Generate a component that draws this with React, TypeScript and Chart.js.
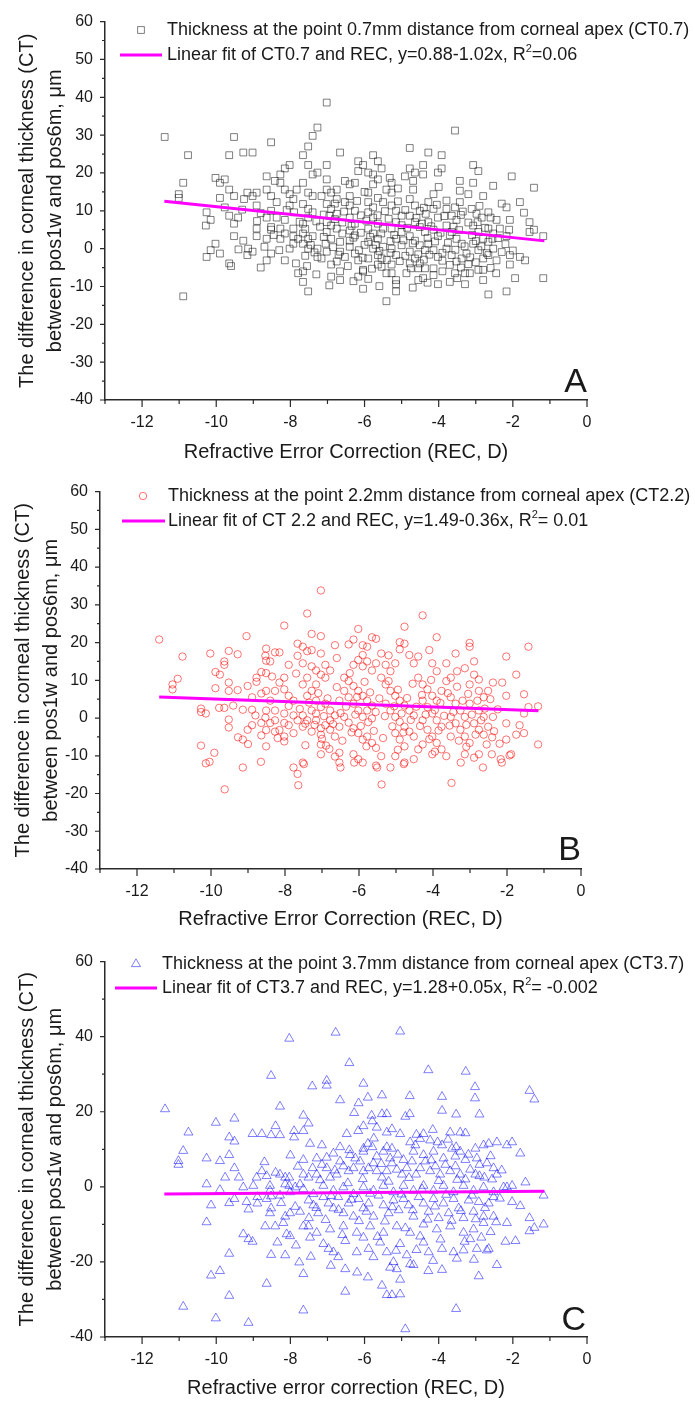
import React, { useEffect, useRef } from "react";
import { Chart, registerables } from "chart.js";

Chart.register(...registerables);

const FONT = "'Liberation Sans', Arial, Helvetica, sans-serif";

// ---------------- axis ticks / labels ----------------
const X_TICKS = [-12, -10, -8, -6, -4, -2, 0];
const X_MINOR = [-13, -11, -9, -7, -5, -3, -1];
const Y_TICKS_AB = [-40, -30, -20, -10, 0, 10, 20, 30, 40, 50, 60];
const Y_MINOR_AB = [-35, -25, -15, -5, 5, 15, 25, 35, 45, 55];
const Y_TICKS_C = [-40, -20, 0, 20, 40, 60];
const Y_MINOR_C = [-30, -10, 10, 30, 50];

const Y_TITLE = ["The difference in corneal thickness (CT)", "between pos1w and pos6m, \u03bcm"];
const X_TITLE_AB = "Refractive Error Correction (REC, D)";
const X_TITLE_C = "Refractive error correction (REC, D)";

const A_LEG1 = "Thickness at the point 0.7mm distance from corneal apex (CT0.7)";
const A_LEG2 = ["Linear fit of CT0.7 and REC, y=0.88-1.02x, R", "2", "=0.06"];
const B_LEG1 = "Thickness at the point 2.2mm distance from corneal apex (CT2.2)";
const B_LEG2 = ["Linear fit of CT 2.2 and REC, y=1.49-0.36x, R", "2", "= 0.01"];
const C_LEG1 = "Thickness at the point 3.7mm distance from corneal apex (CT3.7)";
const C_LEG2 = ["Linear fit of CT3.7 and REC, y=1.28+0.05x, R", "2", "= -0.002"];

// ---------------- fitted lines (end points) ----------------
const A_FIT: [number, number][] = [[-11.4, 12.51], [-1.15, 2.05]];
const B_FIT: [number, number][] = [[-11.4, 5.59], [-1.15, 1.9]];
const C_FIT: [number, number][] = [[-11.4, -1.9], [-1.15, -1.2]];

// ---------------- CT0.7 (panel A) ----------------
const A_POINTS: [number, number][] = [
  [-11.39,29.5],[-10.76,24.7],[-10.89,17.4],[-11.01,14.4],[-11.01,13.4],[-10.89,-12.6],
  [-9.52,29.5],[-9.65,24.7],[-9.27,25.4],[-9.02,25.4],[-8.52,28.1],
  [-10.02,18.7],[-9.9,17.4],[-9.77,18.3],[-9.65,15.6],[-9.52,13.9],
  [-9.9,13.4],[-9.77,10.9],[-9.65,8.7],[-9.41,8.2],
  [-10.26,9.6],[-10.15,7.6],[-10.28,6.1],[-9.52,6.6],[-9.52,3.3],[-9.27,2.1],
  [-10.02,1.3],[-10.15,-0.4],[-10.26,-2.2],[-9.9,-1.3],[-9.65,-3.9],
  [-9.16,14.8],[-8.91,14.8],[-9.25,13.1],[-9.02,13.9],[-8.91,11.4],
  [-9.16,-1.7],[-9.02,-0.8],[-9.14,0.0],
  [-8.91,5.3],[-8.91,3.3],[-8.64,2.6],[-8.52,5.0],
  [-8.64,19.1],[-8.42,17.9],[-8.64,15.6],[-8.52,13.9],
  [-8.64,-3.1],[-8.52,-1.3],[-8.15,-3.1],
  [-8.27,19.6],[-8.15,21.2],[-8.02,22.1],[-8.27,17.4],[-8.15,15.6],
  [-8.37,12.3],[-8.52,10.0],[-8.64,8.2],[-8.37,8.2],[-8.15,7.6],
  [-8.52,5.7],[-8.27,5.3],[-8.15,4.0],[-8.27,2.6],
  [-8.02,14.4],[-7.92,13.1],[-8.02,11.4],[-7.83,15.6],
  [-7.92,5.3],[-7.92,3.3],[-8.02,0.0],[-7.92,1.3],[-7.79,2.6],
  [-7.66,24.7],[-7.52,27.0],[-7.4,29.8],[-7.27,32.0],[-7.52,22.1],
  [-7.66,17.4],[-7.52,14.8],[-7.4,19.6],[-7.27,20.1],[-7.4,13.9],
  [-7.66,11.8],[-7.52,10.5],[-7.4,9.6],[-7.52,8.2],[-7.66,6.6],
  [-7.66,4.0],[-7.52,2.6],[-7.66,1.3],[-7.52,0.0],[-7.4,3.3],
  [-7.79,-6.5],[-7.66,-8.8],[-7.52,-11.3],[-7.66,-6.0],
  [-7.27,0.0],[-7.27,-2.2],[-7.16,-2.6],[-7.02,-0.8],
  [-7.02,22.1],[-7.02,18.3],[-7.02,15.6],[-7.16,13.9],[-7.02,11.8],
  [-6.9,14.8],[-6.75,15.6],[-6.75,13.1],[-6.9,10.5],[-6.75,9.2],
  [-7.02,7.0],[-6.9,6.1],[-6.75,5.3],[-7.02,4.4],[-6.9,2.6],
  [-6.9,-4.2],[-6.9,-7.4],[-6.66,-8.3],[-6.66,-6.0],[-6.75,-3.4],
  [-6.66,25.4],[-6.53,17.9],[-6.4,17.0],[-6.26,17.4],[-6.66,1.8],[-6.66,-0.8],[-6.53,-2.2],
  [-7.02,38.6],
  [-6.4,13.9],[-6.53,12.3],[-6.4,11.4],[-6.26,10.0],[-6.4,8.2],[-6.26,6.6],[-6.4,4.8],[-6.26,3.5],[-6.4,2.1],
  [-6.4,0.5],[-6.26,-1.3],[-6.17,-3.1],[-6.04,-5.6],
  [-6.17,23.1],[-6.04,22.1],[-6.17,20.5],[-5.9,20.1],[-5.77,24.7],[-5.64,23.1],
  [-6.17,-7.4],[-6.04,-6.0],[-6.04,-10.6],
  [-5.9,14.8],[-5.77,17.0],[-5.64,18.3],[-5.54,21.2],[-5.77,19.6],
  [-5.9,12.3],[-5.77,10.9],[-5.64,13.4],[-5.5,12.3],[-5.9,9.6],[-5.77,8.2],[-5.64,6.6],
  [-5.9,5.3],[-5.77,4.0],[-5.64,2.6],[-5.5,5.3],[-5.9,1.8],[-5.77,0.0],[-5.64,-1.7],[-5.5,0.5],
  [-5.54,-2.6],[-5.54,-4.8],[-5.41,-6.5],[-5.27,-4.2],[-5.64,-4.2],
  [-5.32,18.7],[-5.27,17.4],[-5.41,15.6],[-5.27,14.8],
  [-5.27,11.4],[-5.15,10.0],[-5.0,8.7],[-5.15,7.0],[-5.27,5.3],[-5.0,4.4],[-5.15,2.6],[-5.0,0.9],[-5.27,0.0],[-5.15,-1.7],
  [-5.27,-6.5],[-5.15,-8.3],[-5.15,-9.4],[-5.15,-11.3],[-5.41,-13.9],
  [-4.78,26.6],[-4.78,21.2],[-4.64,20.1],[-4.69,17.9],[-4.91,19.1],[-4.69,15.6],[-4.42,22.1],[-4.28,25.4],[-3.92,24.7],[-3.92,21.2],[-4.02,20.1],[-4.42,19.6],
  [-4.78,13.1],[-4.64,11.4],[-4.51,10.0],[-4.78,8.7],[-4.64,7.0],[-4.51,5.7],[-4.37,4.4],[-4.78,3.3],[-4.64,2.1],[-4.51,0.9],[-4.37,-0.4],[-4.78,-0.8],[-4.64,-2.6],[-4.51,-3.9],[-4.37,-5.2],
  [-4.87,-6.5],[-4.55,-8.3],[-4.42,-7.8],[-4.78,-3.9],[-4.55,-5.2],
  [-4.14,14.4],[-4.28,12.3],[-4.14,10.5],[-4.02,8.2],[-4.28,7.0],[-4.14,5.0],[-4.02,3.3],[-4.28,1.3],[-4.14,-0.4],[-4.02,-2.2],[-4.14,-5.2],[-4.14,-7.0],[-4.02,-9.4],[-3.7,-8.8],
  [-3.56,31.2],[-3.43,17.9],[-3.43,15.3],[-3.2,14.4],[-3.07,17.4],[-2.93,20.5],[-3.07,22.1],[-2.8,13.9],[-3.56,10.9],[-3.43,12.3],[-3.79,12.7],
  [-3.79,10.5],[-3.65,8.7],[-3.52,7.6],[-3.79,6.1],[-3.65,4.4],[-3.52,2.6],[-3.38,1.3],[-3.79,0.0],[-3.65,-1.7],[-3.52,-3.4],[-3.38,-2.6],[-3.25,-1.3],[-3.56,-6.5],[-3.29,-6.5],[-3.29,-9.4],[-3.16,-6.5],
  [-3.11,10.5],[-2.98,9.2],[-2.84,8.2],[-3.07,6.1],[-2.93,4.4],[-2.8,2.6],[-3.07,1.3],[-2.93,-0.4],[-2.8,-2.6],[-2.93,-5.6],[-2.8,-5.6],
  [-2.66,9.6],[-2.44,7.6],[-2.66,5.3],[-2.53,4.0],[-2.66,1.8],[-2.53,0.0],[-2.44,-3.1],[-2.66,-1.7],
  [-2.53,16.6],[-2.17,10.9],[-2.03,19.1],[-2.08,7.6],[-2.17,3.3],[-2.08,-1.7],[-2.08,-4.2],[-1.94,-7.8],[-2.17,-11.3],[-2.66,-12.1],
  [-1.81,12.3],[-1.81,-2.2],[-1.67,-3.1],[-1.55,7.0],[-1.43,16.1],[-1.43,5.0],[-1.55,4.4],[-1.18,3.3],[-1.18,-7.8],
  [-7.1,9.0],[-6.8,7.8],[-6.6,4.0],[-6.1,8.8],[-6.0,1.0],[-5.9,-2.6],[-5.3,2.0],[-5.0,6.2],[-4.9,-1.9],[-4.4,10.8],
  [-4.3,2.8],[-3.9,-3.2],[-3.7,3.6],[-3.4,8.9],[-3.2,-4.1],[-3.0,2.0],[-2.9,11.3],[-2.6,-5.1],[-2.4,2.8],[-2.3,11.9],
  [-7.3,7.2],[-7.6,-1.9],[-8.1,10.2],[-6.3,-8.6],[-5.6,-9.9],[-4.7,-10.3],[-3.9,-6.0],[-4.0,16.3],[-5.1,15.9],[-6.0,15.0],
  [-8.8,-5.0],[-9.6,-4.6],[-2.0,-0.5],[-1.7,9.5],
  [-7.9,9.6],[-7.75,7.1],[-7.6,5.2],[-7.45,1.0],[-7.35,-1.0],[-7.2,5.8],[-7.1,3.1],[-7.05,1.3],[-6.95,8.7],[-6.85,0.4],
  [-6.8,11.9],[-6.7,-1.6],[-6.6,6.9],[-6.55,9.8],[-6.45,-4.6],[-6.35,6.0],[-6.3,2.9],[-6.2,12.6],[-6.15,-0.4],[-6.1,4.2],
  [-6.05,-2.4],[-5.95,7.4],[-5.85,3.1],[-5.8,-5.3],[-5.7,1.0],[-5.65,8.8],[-5.6,-0.6],[-5.55,4.0],[-5.45,9.9],[-5.4,-3.0],
  [-5.35,7.9],[-5.3,-1.1],[-5.2,3.6],[-5.1,12.5],[-5.05,-3.3],[-4.95,2.2],[-4.9,10.2],[-4.85,5.5],[-4.75,-5.2],[-4.7,1.4],
  [-4.6,8.1],[-4.55,-1.5],[-4.45,6.6],[-4.4,-2.9],[-4.35,9.2],[-4.25,-1.6],[-4.2,5.9],[-4.1,1.9],[-4.05,11.6],[-3.95,4.2],
  [-3.9,-1.1],[-3.85,8.6],[-3.75,1.5],[-3.7,-4.3],[-3.6,5.8],[-3.55,-0.3],[-3.45,4.9],[-3.4,-5.0],[-3.35,9.8],[-3.3,0.6],
  [-3.2,6.9],[-3.15,-2.3],[-3.1,3.6],[-3.0,-3.6],[-2.95,7.0],[-2.85,0.6],[-2.75,5.5],[-2.7,-1.2],[-2.6,8.2],[-2.55,2.6],
  [-2.45,-6.5],[-2.35,5.3],[-2.3,-0.9],[-2.2,1.2],[-2.1,5.0],[-7.85,-3.9],[-8.3,-0.4],[-8.45,3.6],[-8.7,0.5],[-8.8,9.4],
  [-8.9,7.3],[-9.3,10.3],[-9.4,-0.2],[-7.55,-4.6],[-7.3,-6.8],[-6.95,-9.7],[-5.9,-8.0],[-4.3,-9.0],[-3.5,-7.8],[-2.8,-8.3],
];

// ---------------- CT2.2 (panel B) ----------------
const B_POINTS: [number, number][] = [
  [-11.4,20.8],[-10.77,16.3],[-10.9,10.4],[-11.04,8.9],[-11.04,7.6],[-10.27,2.5],[-10.27,1.6],[-10.14,1.2],[-10.27,-7.3],[-9.91,-9.2],[-10.04,-11.6],[-10.14,-12.0],[-10.02,17.1],
  [-9.88,12.2],[-9.64,14.1],[-9.76,11.5],[-9.52,17.8],[-9.64,15.0],[-9.88,7.9],[-9.52,9.4],[-9.52,7.2],[-9.28,7.4],
  [-9.78,2.7],[-9.64,2.7],[-9.4,3.3],[-9.52,-0.4],[-9.52,-2.5],[-9.28,16.9],[-9.04,21.7],
  [-9.27,-5.1],[-9.14,-5.7],[-9.01,-3.1],[-8.89,-1.9],[-9.14,2.2],[-8.89,2.2],[-9.14,-13.1],
  [-9.01,8.5],[-8.77,10.7],[-8.77,9.6],[-8.89,5.5],[-8.64,6.5],[-8.51,7.2],[-8.64,12.2],[-8.51,11.9],
  [-8.51,18.4],[-8.53,16.5],[-8.51,15.2],[-8.4,15.0],[-8.27,17.4],[-8.15,17.4],
  [-8.51,2.0],[-8.53,0.1],[-8.64,-1.3],[-8.4,-1.3],[-8.51,-3.2],[-8.64,-4.6],
  [-8.27,2.0],[-8.02,1.2],[-8.27,-0.6],[-8.02,-1.3],[-8.15,-3.2],[-8.27,-3.6],[-8.02,-4.9],
  [-8.65,-11.6],[-8.51,-7.5],[-8.02,-6.2],[-8.02,24.5],
  [-7.9,14.1],[-8.02,10.7],[-8.15,9.4],[-8.02,7.6],[-8.27,7.2],[-7.9,5.9],[-7.77,4.6],
  [-7.77,0.7],[-7.66,-0.6],[-7.52,0.7],[-7.9,-1.9],[-7.77,-4.0],[-7.52,-2.3],[-7.4,-0.6],
  [-7.66,19.7],[-7.52,18.9],[-7.4,17.7],[-7.28,22.3],[-7.03,21.7],[-7.66,16.5],[-7.52,14.5],[-7.28,18.0],[-7.03,17.1],[-7.28,13.7],
  [-7.77,-13.1],[-7.66,-14.8],[-7.52,-11.8],[-7.4,27.7],[-7.03,33.8],
  [-7.4,10.7],[-7.52,8.9],[-7.28,7.2],[-7.4,5.9],[-7.16,8.9],[-7.03,11.5],[-7.16,12.6],[-6.91,14.1],[-6.78,12.6],[-6.91,10.7],
  [-7.16,4.6],[-7.03,2.9],[-7.28,2.0],[-7.16,1.2],[-6.91,3.8],[-6.78,2.0],[-6.65,0.7],[-6.53,4.6],
  [-7.16,-0.6],[-7.03,-2.7],[-6.91,-1.9],[-6.78,-0.6],[-7.28,-3.6],[-7.03,-4.4],[-6.78,-3.1],[-6.53,-2.3],[-6.65,-4.9],[-7.03,-7.0],[-6.89,-7.3],[-7.03,-9.6],[-6.65,-10.2],[-6.53,-11.8],[-6.53,-9.2],
  [-6.65,19.3],[-6.28,19.5],[-6.15,20.8],[-6.02,23.6],[-5.9,19.3],[-5.78,18.9],[-5.65,21.4],[-5.54,21.0],[-5.9,16.7],[-6.02,15.4],[-6.15,14.1],[-5.9,13.7],[-5.78,15.0],[-5.65,12.6],[-5.54,14.5],
  [-6.4,10.7],[-6.28,9.8],[-6.15,8.5],[-6.02,7.2],[-5.9,5.9],[-5.78,4.6],[-5.65,3.3],[-6.4,7.2],[-6.28,5.5],[-6.15,3.8],[-6.02,2.0],[-5.9,0.3],[-5.78,2.0],[-5.65,-0.1],[-6.4,0.3],[-6.28,-1.2],[-6.15,-2.7],[-6.02,-4.0],[-5.9,-5.7],[-5.78,-4.9],[-5.65,-6.6],[-5.54,-7.9],[-5.4,-10.1],[-5.54,-12.6],[-5.9,-11.8],[-6.15,-9.6],[-6.02,-10.9],
  [-5.4,17.1],[-5.28,14.1],[-5.15,12.4],[-5.02,14.5],[-4.9,20.1],[-4.77,24.2],[-4.77,19.7],[-4.9,18.2],[-4.64,16.7],[-4.52,14.5],[-4.4,16.3],
  [-5.4,10.7],[-5.28,8.9],[-5.15,7.2],[-5.02,5.9],[-4.9,4.6],[-4.77,3.3],[-4.64,2.0],[-4.52,0.7],[-5.28,3.8],[-5.15,2.0],[-5.02,0.3],[-4.9,-1.0],[-4.77,-2.3],[-4.64,-3.6],[-4.52,-4.9],[-5.02,-4.0],[-4.9,-5.7],[-4.77,-7.5],[-5.02,-10.1],[-4.77,-11.8],[-4.52,-10.9],[-4.4,-8.3],
  [-4.4,10.7],[-4.28,8.9],[-4.15,7.6],[-4.02,5.9],[-3.9,4.6],[-3.77,7.2],[-4.28,4.6],[-4.15,2.9],[-4.02,1.2],[-3.9,-0.6],[-3.77,-2.3],[-4.28,-0.6],[-4.15,-3.1],[-4.02,-4.9],[-3.9,-6.6],[-3.77,-8.3],[-3.64,-10.1],[-4.02,-9.6],[-4.28,-7.0],
  [-4.28,27.2],[-3.9,21.4],[-4.02,14.5],[-3.9,12.4],[-3.64,14.5],[-3.39,17.1],[-3.52,10.7],[-3.64,9.8],
  [-3.52,5.5],[-3.39,3.8],[-3.26,2.0],[-3.14,0.3],[-3.52,0.3],[-3.39,-1.4],[-3.26,-3.1],[-3.14,-4.9],[-3.01,-6.6],[-3.52,-4.9],[-3.14,-9.6],[-2.89,-10.5],[-2.76,-9.6],[-2.65,-13.1],
  [-3.01,19.9],[-3.01,18.9],[-2.89,15.0],[-3.14,13.2],[-2.89,11.5],[-2.76,10.2],[-3.01,8.9],[-2.76,7.2],[-2.63,5.5],[-2.51,7.2],[-3.01,3.8],[-2.76,2.0],[-2.63,0.3],[-2.89,-1.4],[-2.76,-3.1],[-2.51,-2.3],[-2.63,-4.4],[-2.38,9.4],
  [-2.38,0.3],[-2.13,9.4],[-2.02,16.3],[-2.02,5.9],[-2.02,-1.4],[-2.02,-5.7],[-1.89,-9.6],[-1.75,-4.4],[-1.75,11.5],[-1.54,6.3],[-1.54,1.2],[-1.66,-1.9],[-1.54,-4.0],[-1.42,18.9],[-1.42,2.9],[-1.16,3.1],[-1.16,-7.0],
  [-2.17,-10.9],[-1.93,-9.9],[-2.41,-9.6],
  [-9.63,-18.9],[-7.64,-17.8],[-7.49,-12.2],[-6.5,-13.1],[-6.13,-11.8],[-5.51,-13.1],[-5.39,-17.6],[-5.15,-13.1],[-4.79,-12.2],[-3.5,-17.2],[-3.25,-11.8],[-2.14,-11.8],
  [-7.9,3.2],[-7.6,2.4],[-7.45,-1.5],[-7.35,4.1],[-7.2,-1.8],[-7.1,6.6],[-7.0,-5.5],[-6.95,0.5],[-6.85,5.2],[-6.7,-1.6],
  [-6.6,8.2],[-6.5,1.3],[-6.45,-6.0],[-6.35,3.0],[-6.25,11.9],[-6.2,-3.8],[-6.1,0.9],[-6.05,5.6],[-5.95,-2.1],[-5.85,9.6],
  [-5.75,-1.1],[-5.7,6.8],[-5.6,-3.4],[-5.55,1.6],[-5.45,5.2],[-5.35,-5.3],[-5.3,0.5],[-5.2,9.8],[-5.1,-2.2],[-5.05,3.1],
  [-4.95,7.5],[-4.85,1.2],[-4.8,-3.8],[-4.7,5.3],[-4.6,-0.5],[-4.55,9.1],[-4.45,3.0],[-4.35,-2.1],[-4.3,6.1],[-4.2,0.9],
  [-4.1,-5.6],[-4.05,10.1],[-3.95,2.1],[-3.85,-3.3],[-3.8,4.0],[-3.7,0.6],[-3.6,6.6],[-3.55,-2.0],[-3.45,1.6],[-3.35,8.3],
  [-3.3,-6.0],[-3.2,4.6],[-3.1,-1.8],[-3.05,6.4],[-2.95,0.9],[-2.85,-4.4],[-2.8,4.6],[-2.7,-0.6],[-2.6,2.5],[-2.55,-7.0],
  [-2.45,5.0],[-2.35,-3.5],[-2.25,2.3],[-2.2,-6.8],[-8.4,4.6],[-8.2,-5.3],[-8.8,0.7],[-9.0,-6.9],[-8.35,11.0],[-7.7,11.8],
  [-7.45,-7.2],[-6.8,-8.2],[-5.8,-7.5],[-4.95,-8.4],[-3.95,-8.9],[-3.1,-7.6],[-2.4,-5.1],[-6.6,15.9],[-5.2,16.6],[-4.1,18.0],[-3.35,12.4],
];

// ---------------- CT3.7 (panel C) ----------------
const C_POINTS: [number, number][] = [
  [-8.03,39.5],[-6.78,41.1],[-5.04,41.4],[-6.41,33.0],[-8.52,29.6],[-7.41,26.8],[-7.02,28.3],[-7.02,27.0],[-6.03,27.5],[-4.28,31.1],[-3.27,30.7],[-3.02,26.6],[-3.02,23.6],[-1.55,25.6],[-1.42,23.3],
  [-6.66,23.1],[-5.91,23.8],[-5.53,24.4],[-4.78,24.2],[-3.91,24.0],[-8.28,21.4],[-6.16,22.3],[-11.38,20.7],[-7.65,19.0],[-6.28,19.7],[-5.81,19.0],[-5.53,19.4],[-5.4,19.4],[-4.9,18.7],[-4.78,19.4],[-3.91,20.3],[-3.53,19.3],[-2.9,19.3],
  [-10.01,17.1],[-9.51,18.2],[-10.75,14.5],[-10.89,9.6],[-11.02,6.9],[-11.02,5.9],[-10.26,7.6],[-10.14,-4.9],[-10.26,-9.4],[-9.9,6.9],[-9.65,8.5],[-9.65,13.2],[-9.51,12.1],[-10.26,0.7],[-9.76,2.5],[-9.9,-0.8],[-9.51,5.0],[-9.39,2.5],[-9.27,-0.1],[-9.65,-4.3],[-9.51,-3.2],
  [-9.02,14.1],[-8.77,14.1],[-8.4,16.2],[-8.52,13.8],[-8.28,13.8],[-7.9,14.9],[-7.65,14.9],[-7.9,13.2],[-7.51,16.9],
  [-9.13,-6.0],[-9.27,-12.6],[-9.13,-13.9],[-9.02,-14.6],[-8.89,-2.7],[-8.89,-4.4],[-8.64,-3.2],[-8.52,-2.5],[-8.52,-5.7],
  [-9.65,-17.8],[-9.9,-22.4],[-10.14,-23.6],[-9.65,-29.0],[-10.89,-31.9],[-10.01,-35.0],[-9.13,-36.2],[-8.64,-25.8],[-8.52,-18.1],[-8.14,-18.2],[-7.65,-23.2],[-7.76,-20.1],[-7.65,-32.9],
  [-6.52,-27.9],[-6.52,-21.9],[-6.91,-21.0],[-5.91,-24.1],[-5.53,-26.3],[-5.4,-28.8],[-5.26,-28.8],[-5.04,-28.6],[-5.04,-24.7],[-4.9,-37.9],[-3.53,-32.5],[-2.92,-23.8],[-2.43,-20.8],[-3.91,-22.1],[-4.28,-22.4],[-5.13,-21.9],[-5.31,-21.5],[-4.77,-20.6],
  [-7.47,11.5],[-7.15,11.1],[-6.66,10.6],[-6.41,9.8],[-6.03,10.2],[-5.91,11.5],[-5.79,10.6],[-5.4,10.6],[-5.26,10.2],[-4.77,11.9],[-4.63,11.1],[-4.5,12.8],[-4.23,12.4],[-4.03,11.9],[-3.91,11.1],[-3.64,10.2],[-3.53,10.6],[-3.42,9.4],[-3.01,10.2],[-2.79,11.1],[-2.65,11.5],[-2.43,11.9],[-2.16,11.1],[-2.02,11.9],[-1.8,8.9],
  [-1.66,1.2],[-2.02,0.3],[-1.17,-2.3],[-1.17,-10.0],[-1.42,-10.9],[-1.55,-11.8],[-1.55,-8.3],[-1.8,-5.1],[-2.02,-4.0],[-1.93,-14.4],[-2.16,-9.6],[-2.65,-16.5],[-2.52,-7.9],
  [-6.03,16.2],[-5.79,17.5],[-5.67,15.8],[-5.4,14.5],[-5.26,15.4],[-5.04,14.1],[-4.41,14.1],[-4.16,15.2],[-3.69,14.5],[-3.42,14.5],[-3.28,14.3],[-6.48,14.1],[-6.17,14.9],[-6.84,8.9],
  [-8.91,2.5],[-8.77,4.2],[-8.64,2.9],[-8.55,0.3],[-8.4,3.8],[-8.28,3.3],[-8.14,2.5],[-8.03,2.5],[-8.14,0.7],[-8.03,0.3],[-7.87,-0.1],[-7.74,0.7],[-7.65,3.3],[-7.51,2.5],[-7.4,5.0],[-7.29,3.3],[-7.15,5.9],[-7.02,5.0],[-6.93,2.5],[-6.75,3.3],
  [-6.57,5.5],[-6.43,4.2],[-6.3,5.0],[-6.12,6.8],[-6.03,4.2],[-5.89,5.0],[-5.76,6.3],[-5.67,4.2],[-5.53,2.5],[-5.4,4.2],[-5.26,6.3],[-5.13,4.6],[-4.99,3.3],[-4.86,5.0],[-4.72,6.8],[-4.61,3.3],[-4.5,5.0],[-4.36,6.8],[-4.23,4.2],[-4.09,5.5],
  [-3.96,3.3],[-3.82,5.9],[-3.69,4.2],[-3.55,5.5],[-3.42,3.3],[-3.28,2.0],[-3.15,4.6],[-3.01,3.3],[-2.9,5.9],[-2.77,2.5],[-2.56,2.0],[-2.43,3.3],[-2.16,-0.1],
  [-7.65,7.2],[-7.29,7.6],[-7.02,7.8],[-6.66,6.8],[-6.39,8.5],[-6.03,9.4],[-5.67,8.1],[-5.49,9.4],[-5.31,7.6],[-4.95,7.2],[-4.68,9.4],[-4.41,8.5],[-4.14,9.4],[-3.87,7.6],[-3.55,8.1],[-3.28,7.2],[-2.97,7.6],[-2.7,6.3],[-2.52,5.0],
  [-9.18,-4.0],[-8.55,-7.0],[-8.14,-7.9],[-8.01,-7.0],[-7.87,-5.3],[-7.74,-6.6],[-7.65,-10.5],[-7.51,-3.6],[-7.38,-4.9],[-7.25,-7.0],[-7.11,-2.7],[-6.97,-4.4],[-6.84,-5.7],[-6.71,-2.7],[-6.57,-7.0],[-6.43,-4.4],[-6.3,-7.9],[-6.16,-3.2],[-6.03,-5.7],[-5.89,-4.4],
  [-5.76,-7.9],[-5.62,-2.3],[-5.49,-4.9],[-5.35,-7.0],[-5.22,-3.6],[-5.08,-6.2],[-4.95,-3.2],[-4.81,-4.9],[-4.68,-7.9],[-4.54,-2.7],[-4.41,-4.4],[-4.27,-6.6],[-4.14,-3.2],[-4.0,-8.3],[-3.87,-4.4],[-3.73,-7.0],[-3.6,-3.2],[-3.46,-5.7],[-3.33,-8.3],[-3.19,-3.6],
  [-3.06,-6.6],[-2.92,-4.0],[-2.79,-7.9],[-2.65,-4.4],[-2.52,-2.7],
  [-7.11,-15.2],[-6.97,-16.5],[-6.84,-17.4],[-6.71,-18.7],[-6.52,-14.4],[-6.21,-17.4],[-6.03,-13.5],[-5.89,-16.5],[-5.76,-18.7],[-5.58,-14.8],[-5.4,-17.4],[-5.22,-20.0],[-5.04,-15.2],[-4.86,-18.2],[-4.68,-20.8],[-4.41,-14.8],[-4.27,-17.4],[-3.91,-16.5],[-3.6,-17.4],[-3.51,-19.1],
  [-3.33,-16.9],[-3.15,-13.9],[-2.97,-16.5],[-2.7,-16.9],[-7.47,-13.5],[-7.51,-10.5],[-7.29,-12.2],[-6.93,-11.3],[-6.57,-10.5],[-6.21,-12.2],[-5.85,-10.5],[-5.49,-12.2],[-5.13,-10.5],[-4.77,-12.2],[-4.41,-10.0],[-4.05,-11.3],[-3.69,-10.5],[-3.33,-12.2],[-3.06,-11.3],[-2.79,-9.6],
  [-8.19,-9.6],[-8.1,-12.6],[-8.68,-10.5],[-8.41,-10.5],[-8.01,-13.1],
  [-7.65,-0.6],[-7.38,-1.9],[-7.11,0.3],[-6.84,-1.0],[-6.57,-0.1],[-6.3,-1.9],[-6.03,-0.1],[-5.76,-1.0],[-5.49,0.3],[-5.22,-1.4],[-4.95,0.3],[-4.68,-1.0],[-4.41,0.3],[-4.14,-1.0],[-3.87,0.3],[-3.6,-1.4],[-3.33,0.3],[-3.06,-1.0],[-2.79,-0.1],[-2.52,-1.4],
  [-2.25,-0.1],[-9.0,0.3],[-8.55,-1.0],[-8.28,-2.3],[-8.01,-1.4],
  [-7.8,5.4],[-7.5,-8.3],[-7.3,-5.6],[-7.2,1.8],[-7.05,-8.8],[-6.9,-2.4],[-6.8,4.4],[-6.7,-6.1],[-6.6,-12.8],[-6.45,1.0],
  [-6.35,-3.4],[-6.25,7.6],[-6.15,-9.1],[-6.05,2.1],[-5.95,-6.6],[-5.85,-1.8],[-5.75,12.9],[-5.65,-13.3],[-5.55,6.1],[-5.45,-9.2],
  [-5.35,1.4],[-5.25,-5.4],[-5.15,-17.0],[-5.1,8.6],[-5.0,-2.0],[-4.9,-11.0],[-4.8,2.4],[-4.7,-6.2],[-4.6,13.9],[-4.5,-13.2],
  [-4.45,-0.6],[-4.3,-8.7],[-4.2,7.1],[-4.1,-5.2],[-4.0,1.6],[-3.95,-14.0],[-3.8,-2.1],[-3.75,12.6],[-3.65,-9.0],[-3.5,1.9],
  [-3.4,-6.4],[-3.3,-14.6],[-3.2,8.6],[-3.1,-2.3],[-3.0,-8.6],[-2.9,2.9],[-2.85,-13.5],[-2.75,-5.6],[-2.6,8.2],[-2.45,-9.4],
  [-2.35,-3.1],[-2.3,4.4],[-2.2,-14.6],[-8.7,6.6],[-8.35,-14.8],[-8.0,8.4],[-8.25,-4.3],[-7.85,-15.6],[-7.45,-18.6],[-6.2,-22.8],
  [-4.6,-16.8],[-4.15,-19.7],[-3.05,-19.4],[-2.6,-12.0],
];

// ---------------- layout / style per panel ----------------
type Panel = {
  points: [number, number][];
  fit: [number, number][];
  yTicks: number[];
  yMinor: number[];
  xTitle: string;
  leg1: string;
  leg2: string[];
  letter: string;
  pointStyle: "rect" | "circle" | "triangle";
  radius: number;
  color: string;
  canvasTop: number;
  canvasHeight: number;
  yScaleWidth: number;
  padRight: number;
  padTop: number;
  plotBottom: number;
  xTitlePadBottom: number;
  yTitlePadTop: number;
  markerX: number;
  textX: number;
  lineX1: number;
  lineX2: number;
  row1: number;
  row2: number;
  letterX: number;
  letterY: number;
};

const PANELS: Panel[] = [
  {
    points: A_POINTS, fit: A_FIT, yTicks: Y_TICKS_AB, yMinor: Y_MINOR_AB, xTitle: X_TITLE_AB,
    leg1: A_LEG1, leg2: A_LEG2, letter: "A", pointStyle: "rect", radius: 4.8, color: "rgba(0,0,0,0.5)",
    canvasTop: 0, canvasHeight: 470, yScaleWidth: 105, padRight: 108, padTop: 17, plotBottom: 400,
    xTitlePadBottom: 6, yTitlePadTop: 13,
    markerX: 141, textX: 167, lineX1: 120, lineX2: 162, row1: 30, row2: 55, letterX: 587, letterY: 392,
  },
  {
    points: B_POINTS, fit: B_FIT, yTicks: Y_TICKS_AB, yMinor: Y_MINOR_AB, xTitle: X_TITLE_AB,
    leg1: B_LEG1, leg2: B_LEG2, letter: "B", pointStyle: "circle", radius: 3.7, color: "rgba(255,0,0,0.55)",
    canvasTop: 470, canvasHeight: 470, yScaleWidth: 100, padRight: 114, padTop: 13, plotBottom: 399,
    xTitlePadBottom: 9, yTitlePadTop: 9,
    markerX: 143, textX: 168, lineX1: 122, lineX2: 165, row1: 26, row2: 51, letterX: 581, letterY: 390,
  },
  {
    points: C_POINTS, fit: C_FIT, yTicks: Y_TICKS_C, yMinor: Y_MINOR_C, xTitle: X_TITLE_C,
    leg1: C_LEG1, leg2: C_LEG2, letter: "C", pointStyle: "triangle", radius: 5.2, color: "rgba(0,0,255,0.5)",
    canvasTop: 940, canvasHeight: 461, yScaleWidth: 105, padRight: 108, padTop: 11, plotBottom: 397,
    xTitlePadBottom: 1, yTitlePadTop: 13,
    markerX: 136, textX: 162, lineX1: 115, lineX2: 157, row1: 24, row2: 48, letterX: 586, letterY: 390,
  },
];

const AXIS = "#2a2a2a";
const TEXT = "#1a1a1a";
const FIT_COLOR = "#ff00ff";

function drawMarker(ctx: CanvasRenderingContext2D, style: string, x: number, y: number, r: number, color: string) {
  ctx.save();
  ctx.strokeStyle = color;
  ctx.lineWidth = 1;
  ctx.beginPath();
  if (style === "rect") {
    const s = r * Math.SQRT1_2;
    ctx.rect(x - s, y - s, 2 * s, 2 * s);
  } else if (style === "circle") {
    ctx.arc(x, y, r, 0, Math.PI * 2);
  } else {
    let a = 0;
    ctx.moveTo(x + Math.sin(a) * r, y - Math.cos(a) * r);
    a += (2 * Math.PI) / 3;
    ctx.lineTo(x + Math.sin(a) * r, y - Math.cos(a) * r);
    a += (2 * Math.PI) / 3;
    ctx.lineTo(x + Math.sin(a) * r, y - Math.cos(a) * r);
    ctx.closePath();
  }
  ctx.stroke();
  ctx.restore();
}

function makeDecor(p: Panel) {
  return {
    id: "decor" + p.letter,
    afterDraw(chart: any) {
      const ctx: CanvasRenderingContext2D = chart.ctx;
      const xs = chart.scales.x;
      const ys = chart.scales.y;
      const { left, bottom } = chart.chartArea;
      ctx.save();
      ctx.strokeStyle = AXIS;
      ctx.lineWidth = 1.2;
      ctx.beginPath();
      for (const v of X_TICKS) {
        const px = xs.getPixelForValue(v);
        ctx.moveTo(px, bottom); ctx.lineTo(px, bottom + 7);
      }
      for (const v of X_MINOR) {
        const px = xs.getPixelForValue(v);
        ctx.moveTo(px, bottom); ctx.lineTo(px, bottom + 4);
      }
      for (const v of p.yTicks) {
        const py = ys.getPixelForValue(v);
        ctx.moveTo(left, py); ctx.lineTo(left - 5, py);
      }
      for (const v of p.yMinor) {
        const py = ys.getPixelForValue(v);
        ctx.moveTo(left, py); ctx.lineTo(left - 3, py);
      }
      ctx.stroke();

      // legend
      drawMarker(ctx, p.pointStyle, p.markerX, p.row1, p.radius, p.color);
      ctx.fillStyle = TEXT;
      ctx.textAlign = "left";
      ctx.textBaseline = "middle";
      ctx.font = `18px ${FONT}`;
      ctx.fillText(p.leg1, p.textX, p.row1);
      ctx.strokeStyle = FIT_COLOR;
      ctx.lineWidth = 3;
      ctx.beginPath();
      ctx.moveTo(p.lineX1, p.row2);
      ctx.lineTo(p.lineX2, p.row2);
      ctx.stroke();
      let cx = p.textX;
      p.leg2.forEach((t, i) => {
        const sup = i === 1;
        ctx.font = sup ? `11px ${FONT}` : `18px ${FONT}`;
        ctx.fillText(t, cx, sup ? p.row2 - 6 : p.row2);
        cx += ctx.measureText(t).width;
      });

      // panel letter
      ctx.font = `34px ${FONT}`;
      ctx.textAlign = "right";
      ctx.textBaseline = "alphabetic";
      ctx.fillText(p.letter, p.letterX, p.letterY);
      ctx.restore();
    },
  };
}

function PanelChart({ p }: { p: Panel }) {
  const ref = useRef<HTMLCanvasElement | null>(null);
  useEffect(() => {
    const canvas = ref.current;
    if (!canvas) return;
    const xScaleHeight = p.canvasHeight - p.plotBottom;
    const chart = new Chart(canvas, {
      type: "scatter",
      data: {
        datasets: [
          {
            label: "fit",
            data: p.fit.map(([x, y]) => ({ x, y })),
            showLine: true,
            borderColor: FIT_COLOR,
            borderWidth: 3,
            pointRadius: 0,
            fill: false,
          } as any,
          {
            label: "points",
            data: p.points.map(([x, y]) => ({ x, y })),
            pointStyle: p.pointStyle,
            pointRadius: p.radius,
            pointBorderWidth: 1,
            pointBorderColor: p.color,
            pointBackgroundColor: "rgba(0,0,0,0)",
            borderColor: p.color,
            backgroundColor: "rgba(0,0,0,0)",
          } as any,
        ],
      },
      options: {
        animation: false,
        responsive: false,
        devicePixelRatio: 1,
        events: [],
        layout: { padding: { left: 0, right: p.padRight, top: p.padTop, bottom: 0 } },
        plugins: { legend: { display: false }, tooltip: { enabled: false }, title: { display: false } },
        scales: {
          x: {
            type: "linear",
            position: "bottom",
            min: -13,
            max: 0,
            afterBuildTicks: (s: any) => { s.ticks = X_TICKS.map((v) => ({ value: v })); },
            afterFit: (s: any) => { s.height = xScaleHeight; },
            grid: { display: false, drawTicks: false },
            border: { display: true, color: AXIS, width: 1.5 },
            ticks: {
              font: { family: FONT, size: 16 },
              color: TEXT,
              padding: 13,
              maxRotation: 0,
              autoSkip: false,
              callback: (v: any) => String(v),
            },
            title: {
              display: true,
              text: p.xTitle,
              color: TEXT,
              font: { family: FONT, size: 20, lineHeight: 1.2 },
              padding: { top: 0, bottom: p.xTitlePadBottom },
            },
          },
          y: {
            type: "linear",
            position: "left",
            min: -40,
            max: 60,
            afterBuildTicks: (s: any) => { s.ticks = p.yTicks.map((v) => ({ value: v })); },
            afterFit: (s: any) => { s.width = p.yScaleWidth; },
            grid: { display: false, drawTicks: false },
            border: { display: true, color: AXIS, width: 1.5 },
            ticks: {
              font: { family: FONT, size: 16 },
              color: TEXT,
              padding: 12,
              autoSkip: false,
              callback: (v: any) => String(v),
            },
            title: {
              display: true,
              text: Y_TITLE,
              color: TEXT,
              font: { family: FONT, size: 20, lineHeight: 1.4 },
              padding: { top: p.yTitlePadTop, bottom: 0 },
            },
          },
        },
      } as any,
      plugins: [makeDecor(p)],
    });
    return () => chart.destroy();
  }, [p]);
  return (
    <canvas
      ref={ref}
      width={695}
      height={p.canvasHeight}
      style={{ position: "absolute", left: 0, top: p.canvasTop, width: 695, height: p.canvasHeight }}
    />
  );
}

export default function App() {
  return (
    <div style={{ position: "absolute", left: 0, top: 0, width: 695, height: 1401, background: "#fff" }}>
      {PANELS.map((p) => (
        <PanelChart key={p.letter} p={p} />
      ))}
    </div>
  );
}
